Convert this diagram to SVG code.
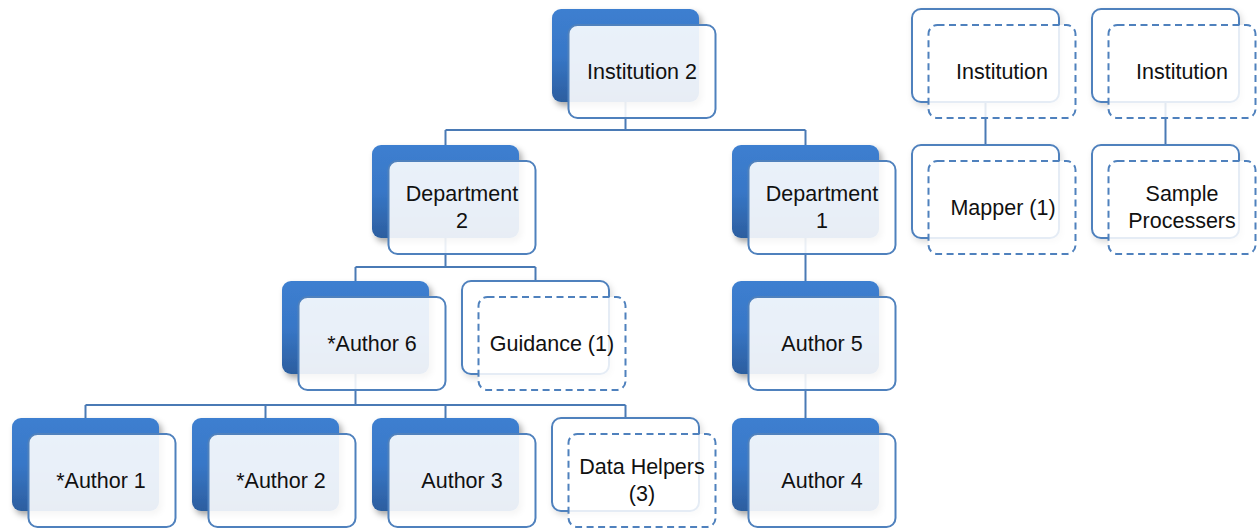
<svg xmlns="http://www.w3.org/2000/svg" width="1259" height="529" viewBox="0 0 1259 529">
<defs>
<linearGradient id="bg" x1="0" y1="0" x2="0" y2="1">
<stop offset="0" stop-color="#3d7fd0"/>
<stop offset="0.5" stop-color="#3877c7"/>
<stop offset="1" stop-color="#2c5e9f"/>
</linearGradient>
<filter id="sh" x="-10%" y="-10%" width="130%" height="130%">
<feDropShadow dx="3" dy="4" stdDeviation="3" flood-color="#000" flood-opacity="0.35"/>
</filter>
<filter id="sh2" x="-10%" y="-10%" width="130%" height="130%">
<feDropShadow dx="2" dy="3" stdDeviation="3" flood-color="#000" flood-opacity="0.15"/>
</filter>
</defs>
<style>
.back{fill:url(#bg);filter:url(#sh)}
.backo{fill:#fff;stroke:#4f81bd;stroke-width:2;filter:url(#sh2)}
.front{fill:#fff;fill-opacity:0.89;stroke:#4f81bd;stroke-width:2}
.frontd{fill:#fff;fill-opacity:0.85;stroke:#4f81bd;stroke-width:2;stroke-dasharray:7 4.5}
.conn{fill:none;stroke:#4a7ab5;stroke-width:2}
text{font-family:"Liberation Sans",Arial,sans-serif;font-size:21.5px;fill:#111;text-anchor:middle}
</style>
<rect width="1259" height="529" fill="#fff"/>
<g id="connectors">
<path class="conn" d="M625.5,101 V130 M445.5,130 H805.5 M445.5,130 V145 M805.5,130 V145"/>
<path class="conn" d="M445.5,238 V267 M355.5,267 H535.5 M355.5,267 V281 M535.5,267 V281"/>
<path class="conn" d="M355.5,374 V405 M85.5,405 H625.5 M85.5,405 V418 M265.5,405 V418 M445.5,405 V418 M625.5,405 V418"/>
<path class="conn" d="M805.5,238 V281 M805.5,374 V418"/>
<path class="conn" d="M985.5,101 V145 M1165.5,101 V145"/>
</g>
<g id="institution2">
<rect class="back" x="552" y="9" width="147" height="93" rx="9"/>
<rect class="front" x="568.5" y="25" width="147" height="93" rx="9"/>
<text x="642" y="79">Institution 2</text>
</g>
<g id="department2">
<rect class="back" x="372" y="145" width="147" height="93" rx="9"/>
<rect class="front" x="388.5" y="161" width="147" height="93" rx="9"/>
<text x="462" y="201">Department</text>
<text x="462" y="228">2</text>
</g>
<g id="department1">
<rect class="back" x="732" y="145" width="147" height="93" rx="9"/>
<rect class="front" x="748.5" y="161" width="147" height="93" rx="9"/>
<text x="822" y="201">Department</text>
<text x="822" y="228">1</text>
</g>
<g id="author6">
<rect class="back" x="282" y="281" width="147" height="93" rx="9"/>
<rect class="front" x="298.5" y="297" width="147" height="93" rx="9"/>
<text x="372" y="351">*Author 6</text>
</g>
<g id="guidance">
<rect class="backo" x="462" y="281" width="147" height="93" rx="9"/>
<rect class="frontd" x="478.5" y="297" width="147" height="93" rx="9"/>
<text x="552" y="351">Guidance (1)</text>
</g>
<g id="author5">
<rect class="back" x="732" y="281" width="147" height="93" rx="9"/>
<rect class="front" x="748.5" y="297" width="147" height="93" rx="9"/>
<text x="822" y="351">Author 5</text>
</g>
<g id="author1">
<rect class="back" x="12" y="418" width="147" height="93" rx="9"/>
<rect class="front" x="28.5" y="434" width="147" height="93" rx="9"/>
<text x="101" y="488">*Author 1</text>
</g>
<g id="author2">
<rect class="back" x="192" y="418" width="147" height="93" rx="9"/>
<rect class="front" x="208.5" y="434" width="147" height="93" rx="9"/>
<text x="281" y="488">*Author 2</text>
</g>
<g id="author3">
<rect class="back" x="372" y="418" width="147" height="93" rx="9"/>
<rect class="front" x="388.5" y="434" width="147" height="93" rx="9"/>
<text x="462" y="488">Author 3</text>
</g>
<g id="datahelpers">
<rect class="backo" x="552" y="418" width="147" height="93" rx="9"/>
<rect class="frontd" x="568.5" y="434" width="147" height="93" rx="9"/>
<text x="642" y="474">Data Helpers</text>
<text x="642" y="501">(3)</text>
</g>
<g id="author4">
<rect class="back" x="732" y="418" width="147" height="93" rx="9"/>
<rect class="front" x="748.5" y="434" width="147" height="93" rx="9"/>
<text x="822" y="488">Author 4</text>
</g>
<g id="institutionA">
<rect class="backo" x="912" y="9" width="147" height="93" rx="9"/>
<rect class="frontd" x="928.5" y="25" width="147" height="93" rx="9"/>
<text x="1002" y="79">Institution</text>
</g>
<g id="mapper">
<rect class="backo" x="912" y="145" width="147" height="93" rx="9"/>
<rect class="frontd" x="928.5" y="161" width="147" height="93" rx="9"/>
<text x="1003" y="215">Mapper (1)</text>
</g>
<g id="institutionB">
<rect class="backo" x="1092" y="9" width="147" height="93" rx="9"/>
<rect class="frontd" x="1108.5" y="25" width="147" height="93" rx="9"/>
<text x="1182" y="79">Institution</text>
</g>
<g id="sampleprocessers">
<rect class="backo" x="1092" y="145" width="147" height="93" rx="9"/>
<rect class="frontd" x="1108.5" y="161" width="147" height="93" rx="9"/>
<text x="1182" y="201">Sample</text>
<text x="1182" y="228">Processers</text>
</g>
</svg>
